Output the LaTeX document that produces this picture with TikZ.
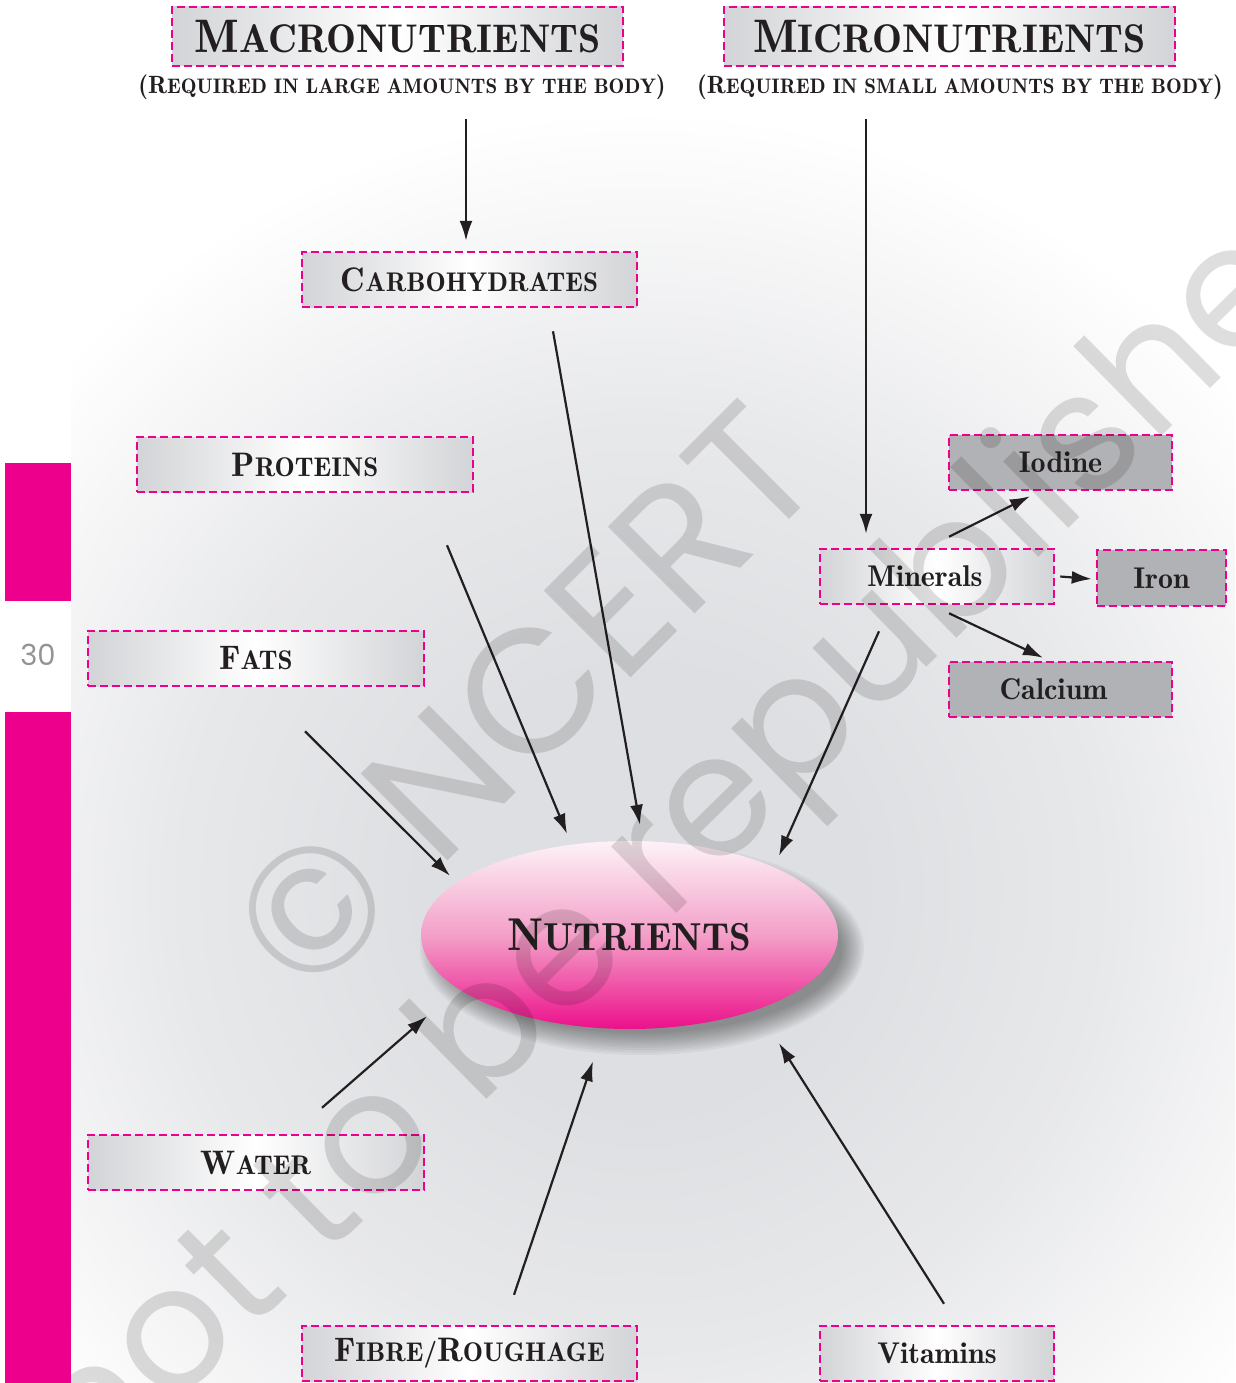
\documentclass[tikz,border=0pt]{standalone}
\usepackage{fontspec}
\usetikzlibrary{shapes.geometric,arrows.meta}
\newfontfamily\demi{lmromandemi10-regular}[Extension=.otf]
\newfontfamily\wmfont{Poppins}
\definecolor{mag}{HTML}{EC008C}
\definecolor{boxg}{HTML}{D3D4D7}
\definecolor{darkg}{HTML}{B1B2B5}
\definecolor{ink}{HTML}{231F20}
\definecolor{bgg}{HTML}{DEDFE2}
\definecolor{pkTop}{HTML}{FDF2F7}
\definecolor{pkMid}{HTML}{F3A0C8}
\definecolor{pkBot}{HTML}{EC108B}
\definecolor{pgnum}{HTML}{939496}
\pgfdeclareradialshading{bgrad}{\pgfpoint{0bp}{0bp}}{color(0bp)=(bgg); color(7bp)=(bgg); color(15bp)=(bgg!70!white); color(25bp)=(white); color(50bp)=(white)}
\newcommand\capsc[4]{{\fontsize{#1}{#1}\selectfont #3}{\fontsize{#2}{#2}\selectfont #4}}
\begin{document}
\begin{tikzpicture}[x=1pt,y=-1pt,
  lbox/.style={draw=mag, line width=2.5pt, dash pattern=on 8pt off 4pt,
    left color=boxg, right color=boxg, middle color=white,
    inner sep=0pt, text=ink, font=\demi},
  dbox/.style={draw=mag, line width=2.5pt, dash pattern=on 8pt off 4pt,
    fill=darkg, inner sep=0pt, text=ink, font=\demi},
  subt/.style={inner sep=0pt, text=ink, font=\demi},
  lc/.style={font=\demi\fontsize{30pt}{30pt}\selectfont},
  arr/.style={draw=ink, line width=2.2pt, -{Latex[length=20pt,width=13pt]}},
  wm/.style={inner sep=0pt, text=black, text opacity=0.13},
]
\useasboundingbox (0,0) rectangle (1235,1383);
\fill[white] (0,0) rectangle (1235,1383);
% background shading
\begin{scope}
  \clip (71,0) rectangle (1235,1383);
  \shade[shading=bgrad] (640,890) circle (780);
\end{scope}
% side bars
\fill[mag] (5,463) rectangle (71,601);
\fill[mag] (5,712) rectangle (71,1383);
\node[text=pgnum, font=\wmfont\fontsize{29pt}{29pt}\selectfont, inner sep=0pt] (pg) at (38,655) {30};

% boxes
\node[lbox, minimum width=451pt, minimum height=59pt] (macro) at (397.5,36.5)
  {\raisebox{-4pt}{\capsc{47pt}{40pt}{M}{ACRONUTRIENTS}}};
\node[subt] (macrosub) at (402,87)
  {\capsc{25pt}{21pt}{(R}{EQUIRED IN LARGE AMOUNTS BY THE BODY}\capsc{25pt}{20pt}{)}{}};
\node[lbox, minimum width=451pt, minimum height=59pt] (micro) at (949.5,36.5)
  {\raisebox{-4pt}{\capsc{47pt}{40pt}{M}{ICRONUTRIENTS}}};
\node[subt] (microsub) at (960,87)
  {\capsc{25pt}{21pt}{(R}{EQUIRED IN SMALL AMOUNTS BY THE BODY}\capsc{25pt}{20pt}{)}{}};

\node[lbox, minimum width=335pt, minimum height=55pt] (carbo) at (469.5,279.5)
  {\raisebox{-2pt}{\capsc{34pt}{27pt}{C}{ARBOHYDRATES}}};
\node[lbox, minimum width=336pt, minimum height=55pt] (prot) at (305,464.5)
  {\raisebox{-2pt}{\capsc{34pt}{27pt}{P}{ROTEINS}}};
\node[lbox, minimum width=336pt, minimum height=55pt] (fats) at (256,658.5)
  {\raisebox{-2pt}{\capsc{34pt}{27pt}{F}{ATS}}};
\node[lbox, minimum width=336pt, minimum height=55pt] (water) at (256,1162.5)
  {\raisebox{-2pt}{\capsc{34pt}{27pt}{W}{ATER}}};
\node[lbox, minimum width=335pt, minimum height=55pt] (fibre) at (469.5,1353.5)
  {\raisebox{-2pt}{\capsc{34pt}{27pt}{F}{IBRE/}\capsc{34pt}{27pt}{R}{OUGHAGE}}};
\node[lbox, lc, minimum width=234pt, minimum height=55pt] (vit) at (937,1353.5) {Vitamins};
\node[lbox, lc, minimum width=234pt, minimum height=55pt] (min) at (937,576.5) {\hspace*{-24pt}Minerals};
\node[dbox, lc, minimum width=223pt, minimum height=55pt] (iod) at (1060.5,462.5) {Iodine};
\node[dbox, lc, minimum width=129pt, minimum height=56pt] (iron) at (1161.5,578) {Iron};
\node[dbox, lc, minimum width=223pt, minimum height=55pt] (calc) at (1060.5,689.5) {\hspace*{-14pt}Calcium};

% shadow of the central ellipse
\foreach \i in {0,...,9}
  \fill[black, opacity=0.045] (642,949) ellipse ({222-2.4*\i} and {106-2.4*\i});
% central ellipse
\node[ellipse, minimum width=417pt, minimum height=188pt, inner sep=0pt,
  top color=pkTop, bottom color=pkBot, middle color=pkMid,
  text=ink, font=\demi] (nut) at (629.5,935)
  {\raisebox{-7pt}{\capsc{46pt}{39pt}{N}{UTRIENTS}}};

% connectors
\draw[arr] ([xshift=68.5pt,yshift=-52pt]macro.south) -- ([xshift=-3.5pt,yshift=10pt]carbo.north);
\draw[arr] ([xshift=-83.5pt,yshift=-52pt]micro.south) -- ([xshift=-71pt,yshift=14pt]min.north);
\draw[arr] ([xshift=83.5pt,yshift=-23pt]carbo.south) -- ([xshift=10.5pt,yshift=16pt]nut.north);
\draw[arr] ([xshift=142pt,yshift=-52pt]prot.south) -- ([xshift=-62.5pt,yshift=7pt]nut.north);
\draw[arr] ([xshift=49pt,yshift=-44pt]fats.south) -- ([xshift=-179.5pt,yshift=-35pt]nut.north);
\draw[arr] ([xshift=-58pt,yshift=-26pt]min.south) -- ([xshift=149.5pt,yshift=-15pt]nut.north);
\draw[arr] ([xshift=66pt,yshift=26pt]water.north) -- ([xshift=-202.5pt,yshift=13pt]nut.south);
\draw[arr] ([xshift=44.5pt,yshift=30pt]fibre.north) -- ([xshift=-36.5pt,yshift=-32pt]nut.south);
\draw[arr] ([xshift=7pt,yshift=21pt]vit.north) -- ([xshift=149.5pt,yshift=-14pt]nut.south);
\draw[arr] ([xshift=12pt,yshift=11pt]min.north) -- ([xshift=-30.5pt,yshift=-5pt]iod.south);
\draw[arr] ([xshift=5pt]min.east) -- ([xshift=-4pt,yshift=-1pt]iron.west);
\draw[arr] ([xshift=12pt,yshift=-8pt]min.south) -- ([xshift=-17.5pt,yshift=3pt]calc.north);

% watermark
\begin{scope}
  \clip (71,0) rectangle (1235,1383);
  \node[wm, rotate=45, font=\wmfont\fontsize{176pt}{176pt}\selectfont] (wma) at (524,698) {© NCERT};
  \node[wm, rotate=44.5, anchor=mid, font=\wmfont\fontsize{170pt}{170pt}\selectfont] (wmb) at (738,850) {not to be republished};
\end{scope}
\end{tikzpicture}
\end{document}
